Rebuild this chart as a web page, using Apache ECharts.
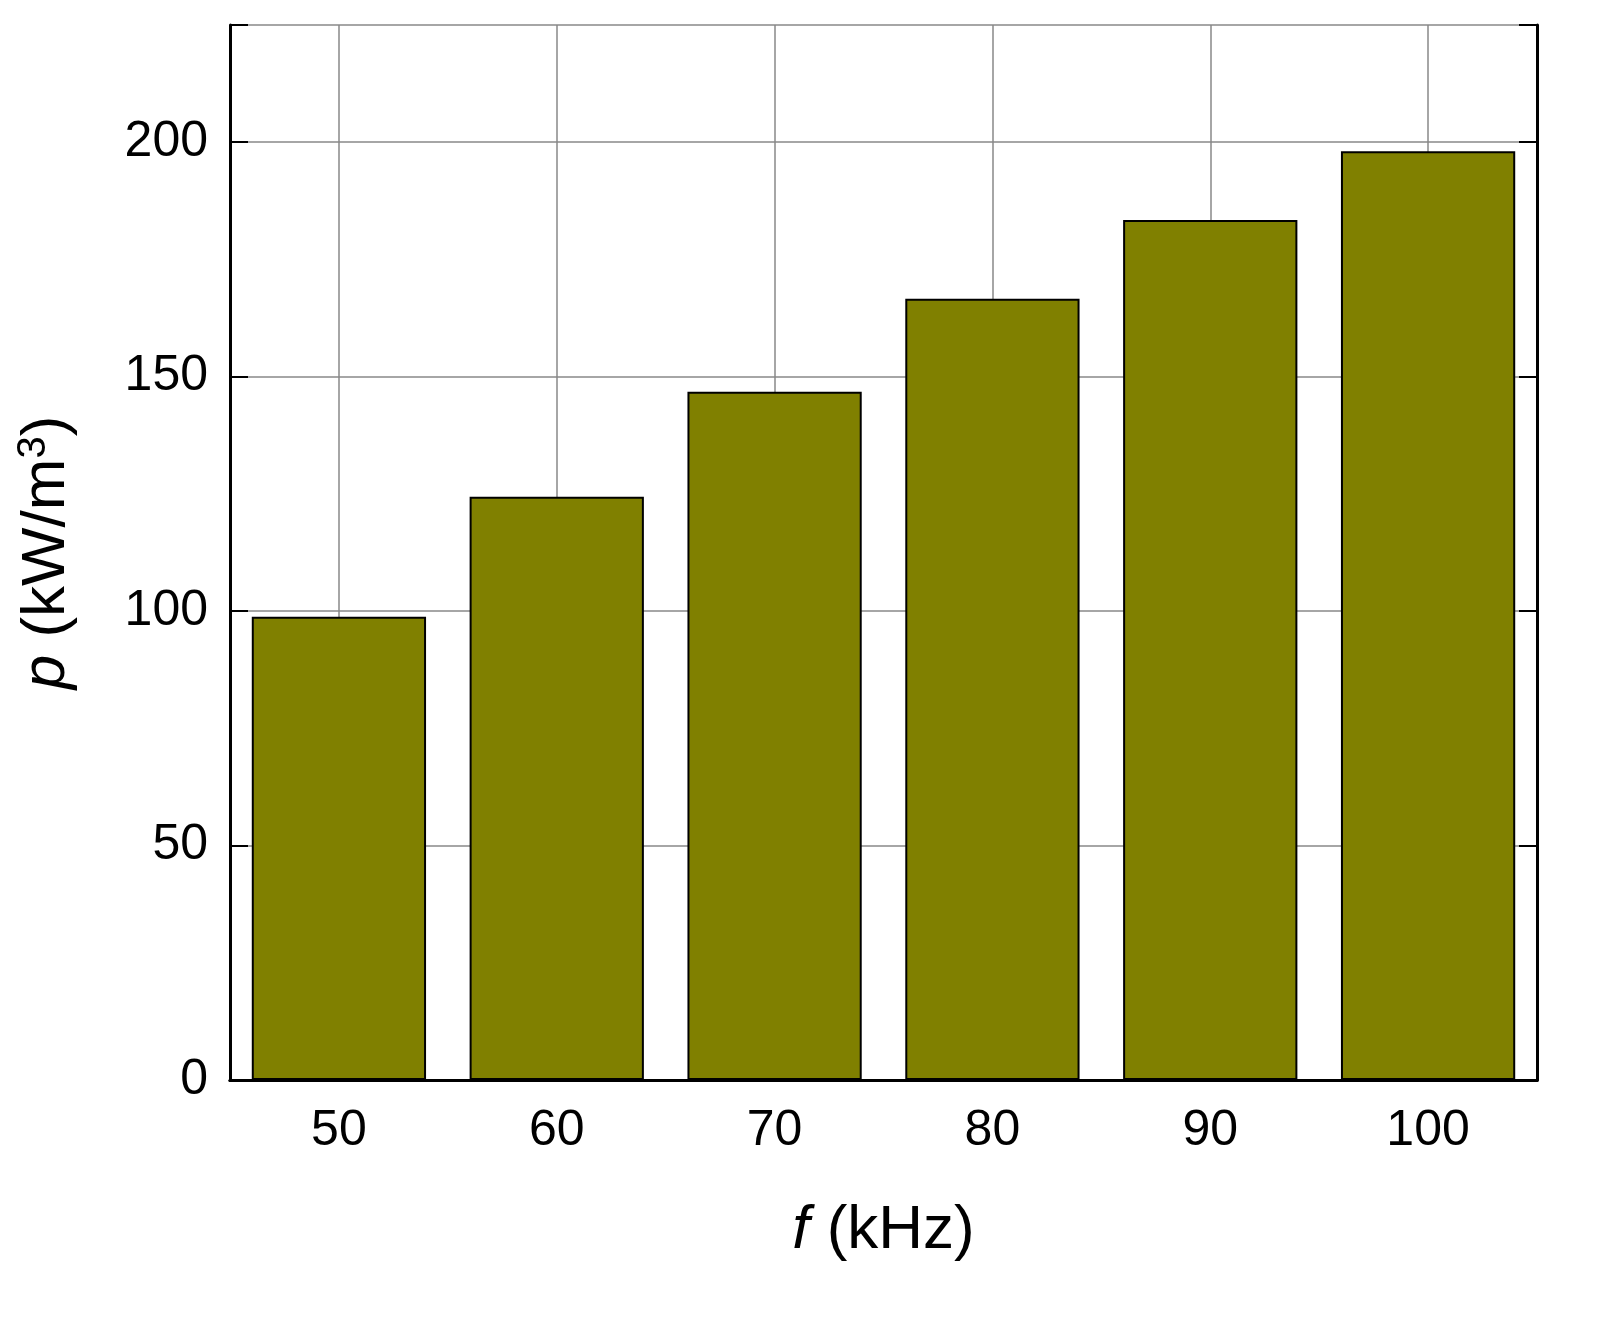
<!DOCTYPE html>
<html><head><meta charset="utf-8">
<script src="https://cdn.jsdelivr.net/npm/echarts@6/dist/echarts.min.js"></script>
<style>html,body{margin:0;padding:0;background:#fff}#c{width:1619px;height:1331px}</style>
</head><body><div id="c"></div>
<script>
const categories = ['50','60','70','80','90','100'];
const values = [98.8, 124.4, 146.8, 166.6, 183.4, 198.1];
const yTicks = [0, 50, 100, 150, 200];

const chart = echarts.init(document.getElementById('c'));
const font = 'Arial, "Liberation Sans", sans-serif';
const axisLine = {show:true, lineStyle:{color:'#000', width:3}};
chart.setOption({
  animation:false,
  grid:{left:230, right:82, top:25, bottom:251, containLabel:false},
  xAxis:[{
    type:'category', data:categories, position:'bottom',
    axisLine:axisLine,
    axisTick:{show:false},
    axisLabel:{fontSize:50, color:'#000', fontFamily:font, margin:26},
    splitLine:{show:false},
    name:'{i|f} (kHz)', nameLocation:'middle', nameGap:120,
    nameTextStyle:{fontSize:62, color:'#000', fontFamily:font, rich:{i:{fontStyle:'italic', fontSize:62, fontFamily:font}}}
  },{
    type:'category', data:categories, position:'top',
    axisLine:axisLine, axisTick:{show:false}, axisLabel:{show:false}
  }],
  yAxis:[{
    type:'value', min:0, max:225, interval:50,
    axisLine:axisLine,
    axisTick:{show:true, inside:true, length:18, lineStyle:{color:'#000', width:2}},
    axisLabel:{fontSize:50, color:'#000', fontFamily:font, margin:22,
      formatter:v=>yTicks.includes(v)?String(v):''},
    splitLine:{show:true, lineStyle:{color:'#888', width:1.5}},
    name:'{i|p} (kW/m{s|3})', nameLocation:'middle', nameGap:150,
    nameTextStyle:{fontSize:62, color:'#000', fontFamily:font,
      rich:{i:{fontStyle:'italic', fontSize:62, fontFamily:font}, s:{fontSize:40, verticalAlign:'top', padding:[0,0,26,0], fontFamily:font}}}
  },{
    type:'value', min:0, max:225, interval:50, position:'right',
    axisLine:axisLine,
    axisTick:{show:true, inside:true, length:18, lineStyle:{color:'#000', width:2}},
    axisLabel:{show:false}, splitLine:{show:false}
  }],
  series:[{
    type:'bar', data:values, barWidth:'80%', z:3,
    itemStyle:{color:'#808000', borderColor:'#000', borderWidth:2},
    markLine:{silent:true, symbol:'none', label:{show:false}, z:1,
      lineStyle:{color:'#888', width:1.5, type:'solid'},
      data:categories.map(c=>({xAxis:c}))}
  }]
});
</script></body></html>
